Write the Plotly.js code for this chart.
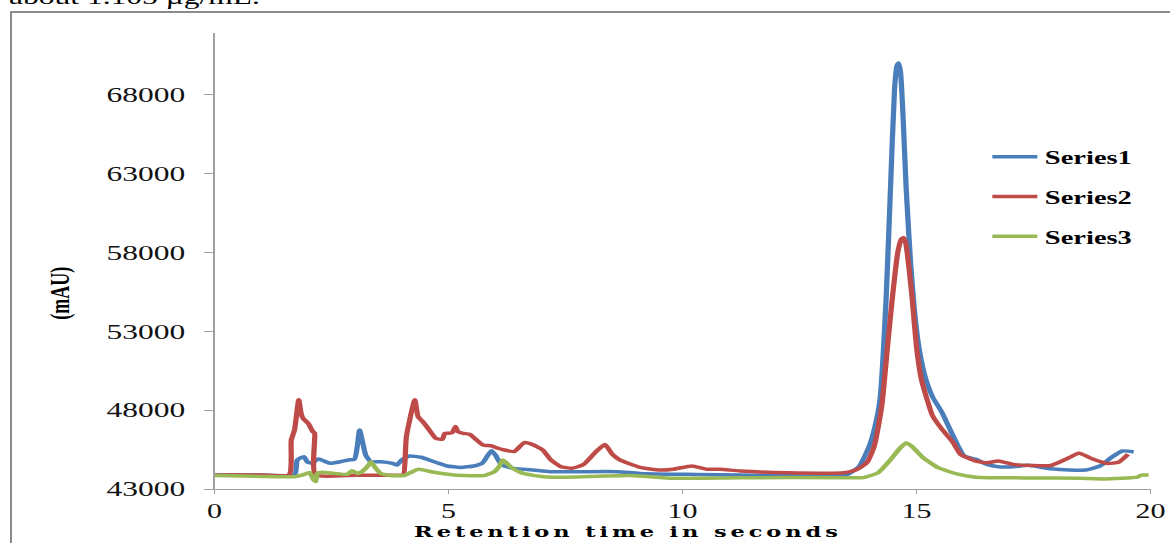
<!DOCTYPE html>
<html>
<head>
<meta charset="utf-8">
<script src="https://cdn.plot.ly/plotly-3.0.1.min.js"></script>
<style>
  html, body { margin: 0; padding: 0; background: #ffffff; overflow: hidden; }
  #chart { position: absolute; left: 0; top: 0; width: 780px; height: 543px; transform: scaleX(1.5); transform-origin: 0 0; }
  #frame { position: absolute; left: 10px; top: 11px; width: 1170px; height: 540px; border-left: 2px solid #8c8c8c; border-top: 2px solid #8c8c8c; pointer-events: none; }
</style>
</head>
<body>
<div id="chart"></div>
<div id="frame"></div>
<script>
// ---- data ----
const seriesNames = ["Series1", "Series2", "Series3"];

const s1Time = [0, 1.0, 1.71, 1.77, 1.91, 1.98, 2.08, 2.22, 2.47, 2.69, 2.87, 2.99, 3.05, 3.1, 3.17, 3.23, 3.34, 3.55, 3.8, 3.9, 4.0, 4.16, 4.41, 4.69, 4.97, 5.26, 5.54, 5.72, 5.83, 5.92, 6.0, 6.14, 6.39, 6.81, 7.17, 8.6, 9.09, 11.23, 13.5, 13.78, 14.0, 14.1, 14.22, 14.35, 14.45, 14.53, 14.58, 14.62, 14.66, 14.71, 14.78, 14.87, 14.95, 15.05, 15.15, 15.25, 15.35, 15.54, 15.78, 16.02, 16.27, 16.5, 16.75, 17.07, 17.39, 17.87, 18.27, 18.6, 18.92, 19.16, 19.4, 19.64];
const s1Value = [43890, 43880, 43900, 44840, 45050, 44730, 44630, 44900, 44630, 44730, 44840, 44880, 45690, 46740, 45900, 45160, 44730, 44730, 44630, 44520, 44840, 45090, 45010, 44730, 44460, 44370, 44460, 44630, 45090, 45430, 45160, 44520, 44310, 44210, 44100, 44100, 43990, 43890, 43900, 44450, 45800, 46800, 48650, 55000, 62500, 68300, 69800, 70000, 69400, 66800, 62000, 57500, 54500, 52000, 50500, 49500, 48800, 47870, 46380, 45090, 44880, 44560, 44410, 44410, 44500, 44280, 44200, 44200, 44460, 44990, 45410, 45350];

const s2Time = [0, 1.0, 1.59, 1.64, 1.71, 1.8, 1.85, 1.89, 2.0, 2.1, 2.14, 2.16, 3.0, 4.0, 4.04, 4.1, 4.28, 4.35, 4.45, 4.59, 4.73, 4.87, 4.92, 5.0, 5.08, 5.15, 5.2, 5.31, 5.45, 5.56, 5.74, 5.92, 6.06, 6.2, 6.4, 6.62, 6.76, 7.01, 7.19, 7.39, 7.64, 7.88, 8.13, 8.34, 8.5, 8.66, 9.09, 9.52, 9.8, 10.2, 10.52, 10.8, 11.23, 12.25, 13.45, 13.7, 13.94, 14.1, 14.26, 14.38, 14.48, 14.6, 14.68, 14.72, 14.77, 14.84, 14.91, 15.0, 15.1, 15.22, 15.34, 15.54, 15.78, 15.94, 16.27, 16.5, 16.75, 17.07, 17.47, 17.87, 18.19, 18.47, 18.75, 19.08, 19.32, 19.52];
const s2Value = [43890, 43880, 43890, 46110, 46740, 48650, 47800, 47480, 47170, 46640, 46530, 43890, 43870, 43870, 43890, 46320, 48650, 47590, 47270, 46740, 46210, 46150, 46530, 46530, 46580, 46960, 46640, 46530, 46470, 46210, 45790, 45730, 45580, 45470, 45370, 45940, 45860, 45480, 44840, 44430, 44320, 44540, 45300, 45820, 45200, 44840, 44375, 44200, 44250, 44460, 44250, 44250, 44140, 44030, 44030, 44200, 44670, 45740, 48300, 52000, 55000, 58000, 58850, 58930, 58600, 57000, 55000, 52000, 50000, 48730, 47660, 46800, 45950, 45200, 44770, 44660, 44770, 44550, 44490, 44490, 44880, 45260, 44920, 44620, 44700, 45200];

const s3Time = [0, 1.0, 1.71, 1.89, 2.03, 2.12, 2.16, 2.2, 2.3, 2.55, 2.84, 2.94, 3.05, 3.15, 3.28, 3.34, 3.43, 3.55, 3.76, 4.05, 4.19, 4.36, 4.69, 5.12, 5.76, 5.98, 6.09, 6.16, 6.34, 6.55, 6.84, 7.2, 8.88, 9.8, 11.23, 13.5, 13.86, 14.18, 14.42, 14.66, 14.78, 14.9, 15.14, 15.46, 15.86, 16.27, 17.5, 18.5, 19.0, 19.72, 19.8, 19.96];
const s3Value = [43850, 43800, 43780, 43890, 44040, 43570, 43470, 43990, 44060, 43990, 43930, 44160, 43990, 44100, 44460, 44730, 44370, 43990, 43850, 43850, 44040, 44250, 44060, 43890, 43850, 44100, 44460, 44840, 44370, 44040, 43850, 43740, 43850, 43680, 43720, 43720, 43720, 44030, 44770, 45630, 45920, 45700, 44990, 44350, 43960, 43750, 43700, 43680, 43640, 43760, 43880, 43880];

const seriesColors = ["#4a7ebb", "#be4b48", "#98b954"];
const yTickValues = [43000, 48000, 53000, 58000, 63000, 68000];
const xTickValues = [0, 5, 10, 15, 20];
const xTitle = "Retention time in seconds";
const yTitle = "(mAU)";
const topText = "about 1.105 µg/mL.";

const times = [s1Time, s2Time, s3Time];
const values = [s1Value, s2Value, s3Value];

const traces = seriesNames.map((name, i) => ({
  type: "scatter",
  mode: "lines",
  name: name,
  legendgroup: name,
  x: times[i],
  y: values[i],
  line: { color: seriesColors[i], width: 3.5, shape: "spline", smoothing: 0.5 },
  hoverinfo: "skip"
}));

const serif = "Liberation Serif, Times New Roman, serif";

const layout = {
  width: 780,
  height: 543,
  margin: { l: 143.33, r: 13.33, t: 33, b: 54, pad: 0 },
  paper_bgcolor: "#ffffff",
  plot_bgcolor: "#ffffff",
  showlegend: true,
  legend: {
    x: 0.823, xanchor: "left",
    y: 0.770, yanchor: "top",
    bgcolor: "rgba(0,0,0,0)",
    borderwidth: 0,
    tracegroupgap: 12,
    font: { family: serif, size: 19, color: "#000000", weight: "bold" }
  },
  xaxis: {
    range: [0, 20],
    tickmode: "array",
    tickvals: xTickValues,
    ticktext: xTickValues.map(String),
    showgrid: false,
    zeroline: false,
    showline: true,
    linecolor: "#a0a0a0",
    linewidth: 1.3,
    ticks: "outside",
    ticklen: 4,
    tickcolor: "#a0a0a0",
    tickfont: { family: serif, size: 20, color: "#111111" }
  },
  yaxis: {
    range: [43000, 71900],
    tickmode: "array",
    tickvals: yTickValues,
    ticktext: yTickValues.map(String),
    showgrid: false,
    zeroline: false,
    showline: true,
    linecolor: "#a0a0a0",
    linewidth: 1.3,
    ticks: "outside",
    ticklen: 6,
    tickcolor: "#a0a0a0",
    ticklabelstandoff: 8,
    tickfont: { family: serif, size: 21, color: "#111111" }
  },
  annotations: [
    {
      text: '<span style="letter-spacing:2.6px">' + xTitle + '</span>',
      xref: "paper", yref: "paper",
      x: 0.4417, y: -0.094, xanchor: "center", yanchor: "middle",
      showarrow: false,
      font: { family: "DejaVu Serif, serif", size: 15, color: "#000000", weight: "bold" }
    },
    {
      text: yTitle,
      xref: "paper", yref: "paper",
      x: -0.1637, y: 0.43, xanchor: "center", yanchor: "middle",
      textangle: -90,
      showarrow: false,
      font: { family: serif, size: 18, color: "#000000", weight: "bold" }
    },
    {
      text: topText,
      xref: "paper", yref: "paper",
      x: -0.2225, y: 1.0789, xanchor: "left", yanchor: "middle",
      showarrow: false,
      font: { family: serif, size: 21, color: "#000000" }
    }
  ]
};

Plotly.newPlot("chart", traces, layout, { staticPlot: true, displayModeBar: false });
</script>
</body>
</html>
